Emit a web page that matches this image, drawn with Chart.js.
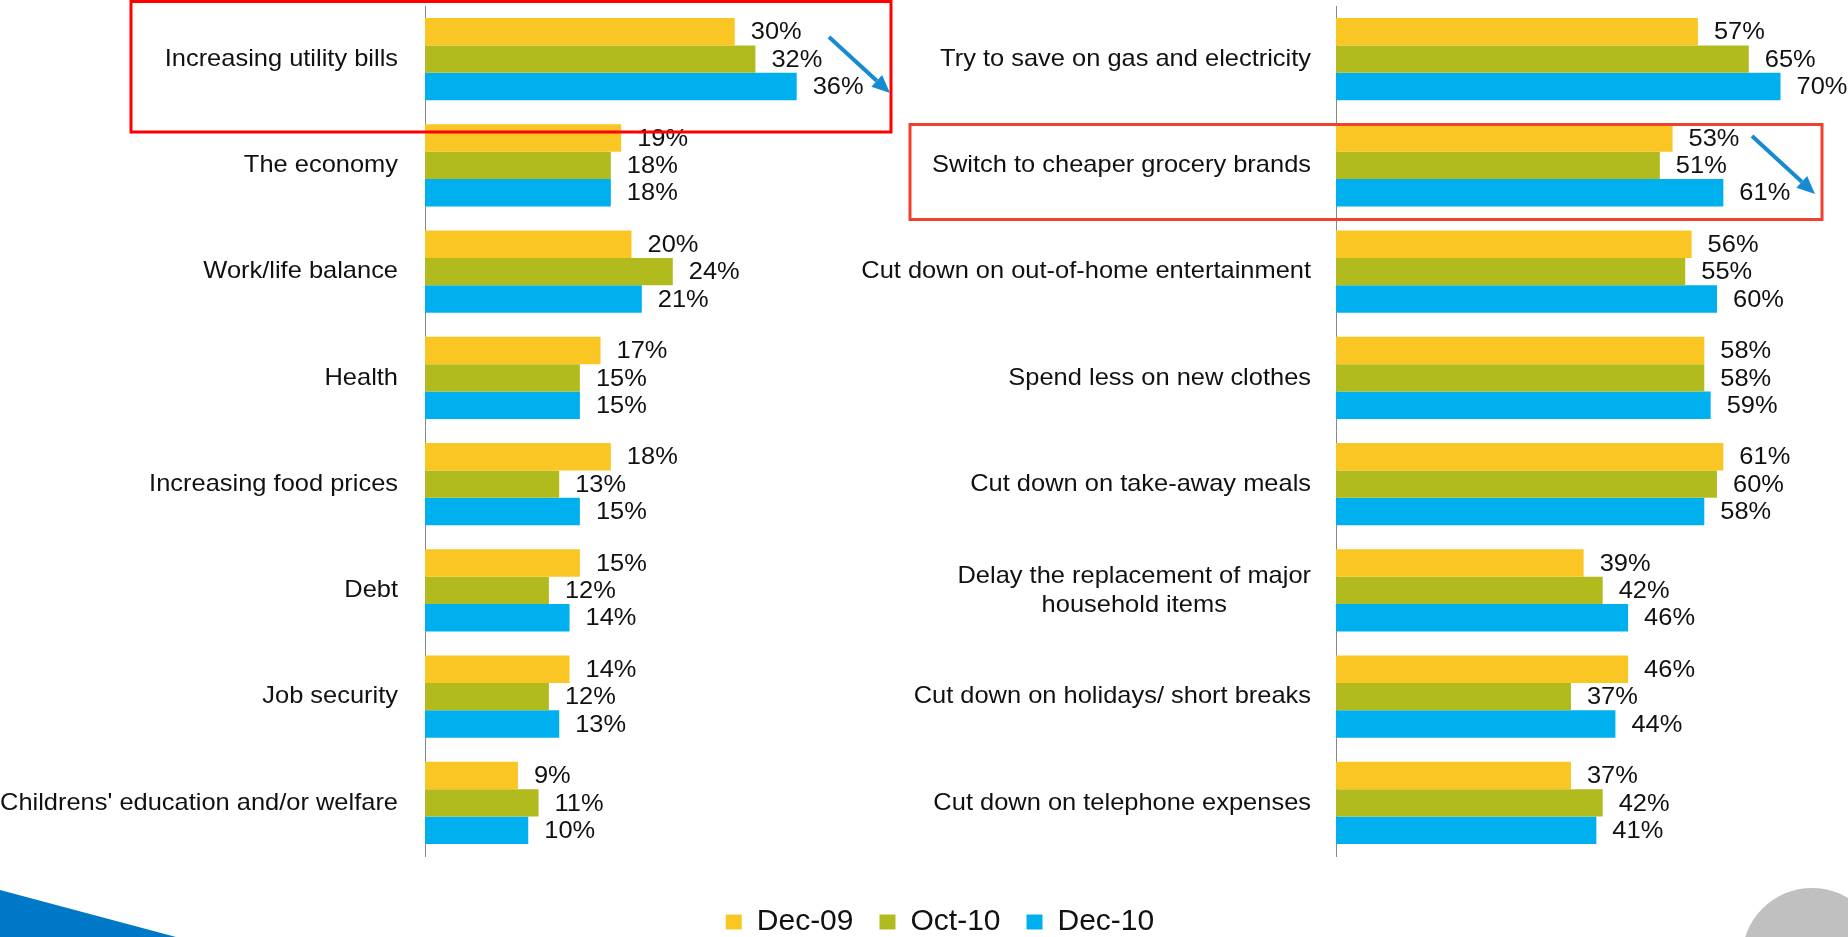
<!DOCTYPE html>
<html>
<head>
<meta charset="utf-8">
<script src="https://cdn.jsdelivr.net/npm/chart.js@4.4.0/dist/chart.umd.min.js"></script>
<style>
    html, body { margin: 0; padding: 0; background: #fff; overflow: hidden; }
    #wrap { position: relative; width: 1848px; height: 937px; overflow: hidden; }
    #wrap canvas { position: absolute; left: 0; top: 0; }
</style>
</head>
<body>
<div id="wrap">
    <canvas id="concerns" width="1848" height="937"></canvas>
    <canvas id="actions" width="1848" height="947"></canvas>
</div>
<script>
const seriesNames = ["Dec-09", "Oct-10", "Dec-10"];
const seriesColors = ["#fac624", "#b2bb1e", "#00b0ee"];

// left panel: concerns
const concernLabels = [
    "Increasing utility bills",
    "The economy",
    "Work/life balance",
    "Health",
    "Increasing food prices",
    "Debt",
    "Job security",
    "Childrens' education and/or welfare"
];
const concernDec09 = [30, 19, 20, 17, 18, 15, 14, 9];
const concernOct10 = [32, 18, 24, 15, 13, 12, 12, 11];
const concernDec10 = [36, 18, 21, 15, 15, 14, 13, 10];

// right panel: actions taken
const actionLabels = [
    "Try to save on gas and electricity",
    "Switch to cheaper grocery brands",
    "Cut down on out-of-home entertainment",
    "Spend less on new clothes",
    "Cut down on take-away meals",
    ["Delay the replacement of major", "household items"],
    "Cut down on holidays/ short breaks",
    "Cut down on telephone expenses"
];
const actionDec09 = [57, 53, 56, 58, 61, 39, 46, 37];
const actionOct10 = [65, 51, 55, 58, 60, 42, 37, 42];
const actionDec10 = [70, 61, 60, 59, 58, 46, 44, 41];

const FONT = "'Liberation Sans', Arial, sans-serif";
const TEXT = "#111111";
const STRETCH = 1.06; // slide text is a little wider than plain Arial
Chart.defaults.font.family = FONT;
Chart.defaults.color = TEXT;

const makeDatasets = (values) =>
    values.map((data, i) => ({
        label: seriesNames[i],
        data,
        backgroundColor: seriesColors[i],
        borderWidth: 0,
        categoryPercentage: 0.772,
        barPercentage: 1.0
    }));

const wideText = (ctx, text, x, y) => {
    ctx.save();
    ctx.translate(x, y);
    ctx.scale(STRETCH, 1);
    ctx.fillText(text, 0, 0);
    ctx.restore();
};

// category names drawn left of the axis, multi-line ones centred on each other
const categoryText = {
    id: "categoryText",
    afterDraw(chart, args, opts) {
        const { ctx } = chart;
        const scale = chart.scales.y;
        const right = chart.chartArea.left - opts.gap;
        ctx.save();
        ctx.font = "24px " + FONT;
        ctx.fillStyle = TEXT;
        ctx.textAlign = "center";
        ctx.textBaseline = "middle";
        chart.data.labels.forEach((label, i) => {
            const lines = Array.isArray(label) ? label : [label];
            const w = STRETCH * Math.max(...lines.map((l) => ctx.measureText(l).width));
            const yc = scale.getPixelForValue(i);
            lines.forEach((line, j) => {
                wideText(ctx, line, right - w / 2, yc + (j - (lines.length - 1) / 2) * 29);
            });
        });
        ctx.restore();
    }
};

// percentage next to each bar
const valueText = {
    id: "valueText",
    afterDatasetsDraw(chart) {
        const { ctx } = chart;
        ctx.save();
        ctx.font = "24px " + FONT;
        ctx.fillStyle = TEXT;
        ctx.textAlign = "left";
        ctx.textBaseline = "middle";
        chart.data.datasets.forEach((ds, di) => {
            chart.getDatasetMeta(di).data.forEach((bar, i) => {
                wideText(ctx, ds.data[i] + "%", bar.x + 16, bar.y + 1);
            });
        });
        ctx.restore();
    }
};

const arrow = (ctx, x1, y1, x2, y2) => {
    const a = Math.atan2(y2 - y1, x2 - x1);
    const len = 18;
    const bx = x2 - len * Math.cos(a);
    const by = y2 - len * Math.sin(a);
    ctx.beginPath();
    ctx.moveTo(x1, y1);
    ctx.lineTo(bx, by);
    ctx.stroke();
    ctx.beginPath();
    ctx.moveTo(x2, y2);
    ctx.lineTo(bx + 8 * Math.sin(a), by - 8 * Math.cos(a));
    ctx.lineTo(bx - 8 * Math.sin(a), by + 8 * Math.cos(a));
    ctx.closePath();
    ctx.fill();
};

// slide highlights and footer shapes
const slideMarks = {
    id: "slideMarks",
    afterDraw(chart) {
        const { ctx } = chart;
        ctx.save();
        ctx.lineWidth = 3;
        ctx.strokeStyle = "#ff0000";
        ctx.strokeRect(131, 1.5, 760, 130.5);
        ctx.strokeStyle = "#f0402f";
        ctx.strokeRect(910, 124.5, 912, 95);

        ctx.strokeStyle = "#168bd2";
        ctx.fillStyle = "#168bd2";
        ctx.lineWidth = 4;
        arrow(ctx, 829, 37, 890, 93);
        arrow(ctx, 1752, 136, 1815, 194);

        ctx.fillStyle = "#0078c8";
        ctx.beginPath();
        ctx.moveTo(0, 890);
        ctx.lineTo(176, 937);
        ctx.lineTo(0, 937);
        ctx.closePath();
        ctx.fill();

        ctx.fillStyle = "#c0c0c0";
        ctx.beginPath();
        ctx.arc(1812, 958, 70, 0, Math.PI * 2);
        ctx.fill();
        ctx.fillStyle = "#ffffff";
        ctx.font = "bold 60px " + FONT;
        ctx.textAlign = "center";
        ctx.fillText("4", 1812, 974);
        ctx.restore();
    }
};

new Chart(document.getElementById("concerns"), {
    type: "bar",
    data: {
        labels: concernLabels,
        datasets: makeDatasets([concernDec09, concernOct10, concernDec10])
    },
    options: {
        indexAxis: "y",
        responsive: false,
        animation: false,
        events: [],
        layout: { padding: { top: 6, left: 0, right: 1010, bottom: 81 } },
        plugins: {
            legend: { display: false },
            tooltip: { enabled: false },
            categoryText: { gap: 27 }
        },
        scales: {
            x: { display: false, min: 0, max: 40 },
            y: {
                grid: { display: false },
                border: { color: "#888888", width: 1 },
                ticks: { display: false },
                afterFit: (scale) => { scale.width = 425; }
            }
        }
    },
    plugins: [categoryText, valueText]
});

new Chart(document.getElementById("actions"), {
    type: "bar",
    data: {
        labels: actionLabels,
        datasets: makeDatasets([actionDec09, actionOct10, actionDec10])
    },
    options: {
        indexAxis: "y",
        responsive: false,
        animation: false,
        events: [],
        layout: { padding: { top: 6, left: 36, right: 4, bottom: 0 } },
        plugins: {
            legend: {
                position: "bottom",
                labels: {
                    font: { size: 30 },
                    color: TEXT,
                    boxWidth: 16,
                    boxHeight: 15,
                    padding: 26
                }
            },
            tooltip: { enabled: false },
            categoryText: { gap: 25 }
        },
        scales: {
            x: {
                min: 0,
                max: 80,
                grid: { display: false },
                border: { display: false },
                ticks: { display: false },
                afterFit: (scale) => { scale.height = 25; }
            },
            y: {
                grid: { display: false },
                border: { color: "#888888", width: 1 },
                ticks: { display: false },
                afterFit: (scale) => { scale.width = 1300; }
            }
        }
    },
    plugins: [categoryText, valueText, slideMarks]
});
</script>
</body>
</html>
